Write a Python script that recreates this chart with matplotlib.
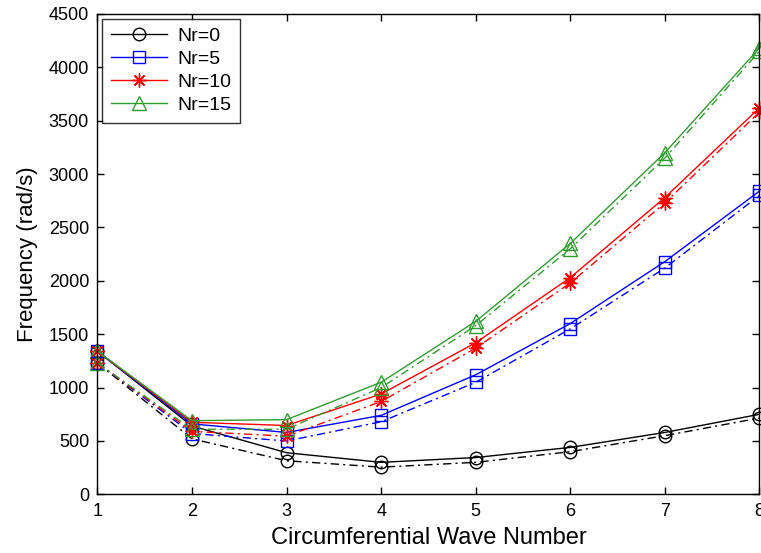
import matplotlib
matplotlib.use("Agg")
import matplotlib.pyplot as plt

# circumferential wave number
wave = [1, 2, 3, 4, 5, 6, 7, 8]
labels = ["Nr=0", "Nr=5", "Nr=10", "Nr=15"]

# solid curves (rad/s)
solid_nr0 = [1340, 640, 390, 300, 345, 440, 580, 750]
solid_nr5 = [1340, 660, 580, 740, 1120, 1600, 2180, 2840]
solid_nr10 = [1340, 675, 645, 940, 1420, 2030, 2780, 3620]
solid_nr15 = [1340, 690, 700, 1050, 1620, 2350, 3200, 4180]

# dash-dot curves (rad/s)
dash_nr0 = [1230, 520, 315, 255, 300, 400, 550, 715]
dash_nr5 = [1230, 570, 500, 680, 1050, 1550, 2120, 2800]
dash_nr10 = [1230, 590, 545, 870, 1370, 1980, 2730, 3580]
dash_nr15 = [1230, 610, 610, 1000, 1580, 2300, 3150, 4150]

colors = ["black", "#0000ff", "#ff0000", "#2e9e2e"]
markers = ["o", "s", (8, 2, 0), "^"]
sizes = [9, 9, 10, 10]

plt.rcParams["font.family"] = ["Liberation Sans", "DejaVu Sans"]

fig = plt.figure(figsize=(7.61, 5.53), dpi=100)
ax = fig.add_axes([0.128, 0.106, 0.870, 0.869])

solids = [solid_nr0, solid_nr5, solid_nr10, solid_nr15]
dashes = [dash_nr0, dash_nr5, dash_nr10, dash_nr15]

for ys, c, m, ms, lab in zip(solids, colors, markers, sizes, labels):
    ax.plot(wave, ys, color=c, lw=1.0, marker=m, ms=ms, mfc="none", mec=c,
            mew=1.0, label=lab, clip_on=False)
for ys, c, m, ms in zip(dashes, colors, markers, sizes):
    ax.plot(wave, ys, color=c, lw=1.0, ls=(0, (6, 3, 1.5, 3)), marker=m, ms=ms,
            mfc="none", mec=c, mew=1.0, clip_on=False)

ax.set_xlim(1, 8)
ax.set_ylim(0, 4500)
ax.set_xticks(wave)
ax.set_yticks(range(0, 4501, 500))
ax.tick_params(direction="in", top=True, right=True, labelsize=13, length=5,
               width=1, pad=6)
for sp in ax.spines.values():
    sp.set_linewidth(1.0)

ax.set_xlabel("Circumferential Wave Number", fontsize=17, labelpad=5)
ax.set_ylabel("Frequency (rad/s)", fontsize=16, labelpad=8)

leg = ax.legend(loc="upper left", fontsize=14, frameon=True, fancybox=False,
                edgecolor="black", borderaxespad=0.25, handlelength=2.9,
                handletextpad=0.5, labelspacing=0.28, borderpad=0.45)
leg.get_frame().set_linewidth(1.0)

fig.savefig("out.png", dpi=100)
